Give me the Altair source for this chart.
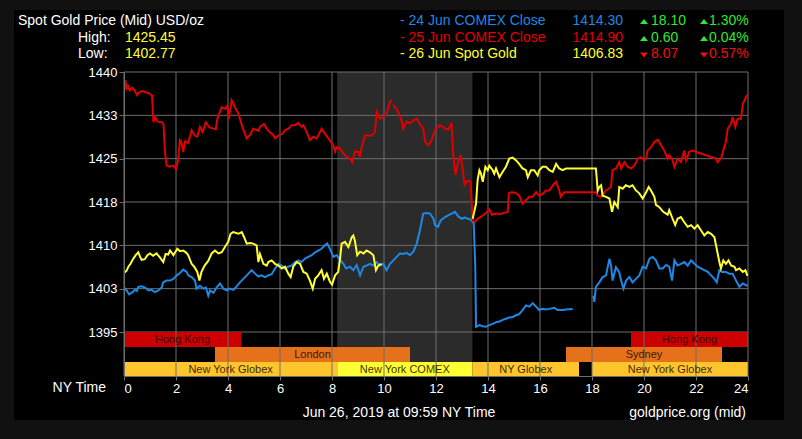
import altair as alt
import pandas as pd

# ---------------- data ----------------
red1_h = [0.00, 0.05, 0.10, 0.15, 0.22, 0.30, 0.40, 0.50, 0.58, 0.70, 0.85, 1.00, 1.08, 1.13, 1.20, 1.30, 1.45, 1.52, 1.58, 1.64,
          1.75, 1.90, 2.00, 2.08, 2.15, 2.20, 2.28, 2.35, 2.47, 2.60, 2.72, 2.82, 2.92, 3.03, 3.15, 3.28, 3.44, 3.53, 3.59, 3.76,
          3.88, 3.97, 4.03, 4.14, 4.27, 4.40, 4.53, 4.65, 4.72, 4.85, 4.97, 5.17, 5.23, 5.38, 5.49, 5.60, 5.74, 5.81, 5.94, 6.08,
          6.19, 6.32, 6.45, 6.58, 6.70, 6.83, 6.90, 7.03, 7.15, 7.28, 7.41, 7.54, 7.60, 7.73, 7.86, 8.05, 8.12, 8.18, 8.31, 8.44,
          8.56, 8.69, 8.78, 8.88, 9.01, 9.08, 9.14, 9.27, 9.40, 9.53, 9.65, 9.72, 9.85, 9.97, 10.10, 10.23, 10.30]
red1_v = [1436.3, 1438.6, 1437.2, 1437.6, 1436.8, 1437.3, 1436.9, 1436.0, 1436.5, 1436.7, 1436.5, 1436.2, 1435.9, 1431.3, 1432.2, 1431.4, 1431.3, 1430.9, 1426.0, 1423.8,
          1423.6, 1423.8, 1423.2, 1424.7, 1428.2, 1427.9, 1426.2, 1428.0, 1427.7, 1429.9, 1429.0, 1428.8, 1430.5, 1429.6, 1431.3, 1430.4, 1430.2, 1430.1, 1431.9, 1433.9,
          1433.6, 1434.1, 1431.9, 1435.1, 1433.9, 1432.8, 1430.8, 1429.3, 1428.5, 1429.1, 1430.2, 1429.8, 1430.5, 1431.0, 1430.2, 1429.6, 1429.1, 1428.5, 1429.0, 1429.3,
          1429.9, 1430.2, 1430.8, 1430.8, 1431.2, 1430.5, 1430.8, 1429.6, 1428.2, 1428.8, 1428.5, 1429.6, 1430.2, 1429.3, 1428.5, 1427.3, 1426.2, 1427.0, 1426.7, 1425.9,
          1425.3, 1425.0, 1424.4, 1426.2, 1426.2, 1425.3, 1427.0, 1429.0, 1429.0, 1429.0, 1429.6, 1433.1, 1431.9, 1432.2, 1432.8, 1434.8, 1435.2]
red2_h = [10.36, 10.55, 10.68, 10.74, 10.87, 11.00, 11.13, 11.26, 11.38, 11.51, 11.58, 11.71, 11.83, 11.96, 12.15, 12.35, 12.47, 12.60, 12.66, 12.75,
          12.85, 12.95, 13.03, 13.10, 13.22, 13.33, 13.41, 13.50, 13.60, 13.75, 13.92, 14.05, 14.15, 14.30, 14.44, 14.60, 14.76, 14.80, 14.90, 15.05,
          15.20, 15.33, 15.46, 15.59, 15.72, 15.85, 15.97, 16.10, 16.23, 16.36, 16.55, 16.62, 16.74, 16.80, 16.93, 18.15, 18.22, 18.35, 18.54, 18.73,
          18.79, 18.92, 19.05, 19.12, 19.25, 19.37, 19.50, 19.63, 19.76, 19.89, 20.01, 20.08, 20.14, 20.27, 20.40, 20.53, 20.66, 20.78, 20.91, 20.97,
          21.10, 21.17, 21.29, 21.42, 21.55, 21.62, 21.74, 21.87, 22.00, 22.19, 22.38, 22.58, 22.77, 22.83, 22.96, 23.09, 23.15, 23.22, 23.35, 23.41,
          23.51, 23.60, 23.73, 23.80, 23.90, 24.00]
red2_v = [1434.3, 1433.1, 1431.6, 1430.2, 1431.4, 1431.1, 1431.6, 1431.9, 1431.0, 1430.2, 1427.9, 1427.3, 1428.2, 1429.9, 1430.8, 1430.2, 1430.0, 1431.2, 1425.6, 1422.2,
          1424.4, 1425.6, 1423.0, 1420.5, 1421.2, 1421.0, 1414.3, 1414.0, 1414.6, 1415.0, 1415.6, 1416.2, 1415.3, 1415.5, 1415.4, 1415.6, 1415.8, 1419.0, 1419.2, 1419.1,
          1418.6, 1417.2, 1417.8, 1418.4, 1418.4, 1419.2, 1418.6, 1418.9, 1419.5, 1419.5, 1420.7, 1421.0, 1419.5, 1418.4, 1419.2, 1419.2, 1418.6, 1418.4, 1419.5, 1420.1,
          1423.0, 1423.3, 1424.4, 1423.3, 1424.4, 1423.6, 1423.3, 1423.8, 1425.0, 1425.3, 1424.7, 1425.0, 1426.4, 1427.0, 1427.9, 1428.3, 1427.3, 1426.4, 1425.0, 1425.6,
          1424.7, 1423.6, 1425.0, 1424.4, 1426.4, 1424.7, 1426.2, 1426.4, 1426.2, 1425.9, 1425.6, 1425.3, 1425.0, 1424.4, 1425.0, 1427.0, 1427.9, 1430.2, 1431.1, 1432.2,
          1430.5, 1431.9, 1431.9, 1434.5, 1435.4, 1436.2]

yel1_h = [0.00, 0.10, 0.17, 0.25, 0.36, 0.45, 0.55, 0.62, 0.68, 0.80, 0.90, 1.00, 1.12, 1.25, 1.38, 1.51, 1.60, 1.70, 1.77, 1.90,
          2.05, 2.15, 2.28, 2.40, 2.47, 2.60, 2.70, 2.82, 2.90, 2.98, 3.10, 3.24, 3.37, 3.50, 3.63, 3.76, 3.88, 4.01, 4.10, 4.20,
          4.40, 4.53, 4.62, 4.72, 4.85, 4.97, 5.10, 5.17, 5.23, 5.36, 5.49, 5.55, 5.68, 5.81, 5.94, 6.07, 6.19, 6.32, 6.41, 6.51,
          6.64, 6.77, 6.90, 7.03, 7.15, 7.26, 7.35, 7.47, 7.60, 7.69, 7.80, 7.92, 8.00, 8.12, 8.24, 8.31, 8.37, 8.50, 8.63, 8.76,
          8.82, 8.88, 8.97, 9.08, 9.21, 9.33, 9.46, 9.59, 9.69, 9.78, 9.91]
yel1_v = [1405.2, 1405.6, 1406.3, 1406.8, 1407.7, 1408.3, 1408.8, 1408.0, 1407.5, 1407.6, 1408.3, 1408.6, 1408.2, 1408.6, 1407.9, 1407.1, 1408.5, 1408.4, 1409.1, 1408.3,
          1409.4, 1409.0, 1409.1, 1408.7, 1408.3, 1406.8, 1406.3, 1405.4, 1403.9, 1405.4, 1406.5, 1407.3, 1408.6, 1409.1, 1408.6, 1408.8, 1409.7, 1410.6, 1412.0, 1412.3,
          1412.0, 1412.3, 1411.4, 1410.3, 1410.4, 1410.3, 1410.0, 1407.1, 1408.5, 1406.8, 1406.5, 1407.1, 1407.4, 1406.8, 1406.5, 1406.0, 1406.3, 1405.1, 1404.5, 1406.3,
          1407.1, 1406.8, 1405.4, 1405.1, 1403.9, 1402.5, 1404.2, 1404.8, 1405.7, 1404.2, 1405.1, 1403.7, 1403.2, 1404.8, 1405.4, 1407.7, 1410.3, 1410.6, 1409.7, 1411.4,
          1411.7, 1410.8, 1408.3, 1408.9, 1408.6, 1409.1, 1408.8, 1408.3, 1405.7, 1406.5, 1406.8]
yel2_h = [13.41, 13.54, 13.60, 13.67, 13.73, 13.80, 13.90, 13.99, 14.05, 14.18, 14.24, 14.31, 14.44, 14.56, 14.69, 14.82, 14.95, 15.08, 15.20, 15.33,
          15.46, 15.53, 15.65, 15.78, 15.91, 15.97, 16.10, 16.23, 16.36, 16.49, 16.62, 16.74, 16.87, 17.00, 18.15, 18.22, 18.28, 18.35, 18.41, 18.54,
          18.67, 18.77, 18.86, 18.99, 19.05, 19.18, 19.30, 19.44, 19.56, 19.69, 19.82, 19.95, 20.08, 20.18, 20.27, 20.40, 20.46, 20.59, 20.74, 20.91,
          20.97, 21.10, 21.20, 21.29, 21.42, 21.55, 21.68, 21.81, 21.94, 22.06, 22.19, 22.32, 22.45, 22.58, 22.71, 22.81, 22.90, 22.96, 23.05, 23.15,
          23.25, 23.35, 23.48, 23.54, 23.67, 23.80, 23.90, 23.98]
yel2_v = [1414.6, 1417.2, 1421.3, 1423.0, 1422.4, 1421.0, 1423.6, 1423.0, 1423.8, 1423.0, 1422.4, 1423.3, 1421.8, 1422.7, 1423.6, 1425.0, 1425.2, 1424.7, 1424.1, 1423.3,
          1423.0, 1421.8, 1423.0, 1423.0, 1422.1, 1423.0, 1423.6, 1423.6, 1423.0, 1422.7, 1424.1, 1423.3, 1423.0, 1423.3, 1423.3, 1419.5, 1420.1, 1420.4, 1418.6, 1418.4,
          1418.1, 1415.8, 1417.5, 1416.6, 1420.1, 1419.8, 1420.4, 1420.1, 1420.4, 1419.5, 1419.0, 1418.1, 1419.2, 1420.1, 1419.5, 1418.4, 1417.0, 1416.6, 1415.8, 1415.3,
          1416.1, 1414.6, 1413.5, 1414.6, 1414.9, 1414.0, 1413.2, 1413.5, 1412.9, 1413.5, 1412.6, 1411.7, 1412.3, 1412.0, 1411.4, 1409.1, 1407.1, 1406.0, 1407.4, 1406.8,
          1407.4, 1406.5, 1406.3, 1405.7, 1406.0, 1405.4, 1405.7, 1404.7]

blue1_h = [0.00, 0.10, 0.20, 0.33, 0.42, 0.49, 0.55, 0.68, 0.81, 0.94, 1.06, 1.19, 1.32, 1.45, 1.51, 1.64, 1.77, 1.90, 2.03, 2.15,
           2.28, 2.41, 2.47, 2.60, 2.73, 2.79, 2.92, 3.05, 3.15, 3.24, 3.31, 3.44, 3.56, 3.69, 3.82, 3.95, 4.08, 4.21, 4.33, 4.46,
           4.59, 4.72, 4.91, 5.04, 5.17, 5.29, 5.42, 5.55, 5.68, 5.81, 5.94, 6.06, 6.19, 6.32, 6.45, 6.58, 6.71, 6.83, 6.96, 7.09,
           7.22, 7.35, 7.47, 7.60, 7.73, 7.82, 7.92, 8.05, 8.18, 8.31, 8.44, 8.54, 8.69, 8.82, 8.95, 9.08, 9.21, 9.33, 9.46, 9.59,
           9.72, 9.85, 9.97, 10.10, 10.23, 10.36, 10.49, 10.62, 10.74, 10.87, 11.00, 11.13, 11.26, 11.38, 11.51, 11.64, 11.77, 11.90, 11.96, 12.08,
           12.18, 12.35, 12.47, 12.60, 12.73, 12.86, 12.99, 13.10, 13.23, 13.35, 13.45, 13.51, 13.54, 13.67, 13.80, 13.92, 14.05, 14.18, 14.31, 14.44,
           14.56, 14.69, 14.82, 14.95, 15.08, 15.20, 15.33, 15.46, 15.59, 15.72, 15.85, 15.97, 16.10, 16.23, 16.36, 16.55, 16.68, 16.87, 17.00, 17.26]
blue1_v = [1402.7, 1402.2, 1401.5, 1401.9, 1402.3, 1402.1, 1402.8, 1402.9, 1402.7, 1402.2, 1402.3, 1401.9, 1402.2, 1402.7, 1403.6, 1403.9, 1403.9, 1404.2, 1404.8, 1405.2,
           1405.8, 1405.4, 1404.8, 1404.5, 1403.9, 1402.5, 1403.0, 1402.5, 1402.7, 1401.3, 1402.2, 1401.8, 1402.7, 1403.4, 1402.5, 1402.2, 1402.5, 1402.3, 1402.9, 1403.6,
           1404.2, 1404.8, 1405.7, 1405.1, 1404.6, 1404.8, 1404.5, 1404.8, 1405.0, 1406.0, 1406.8, 1406.5, 1406.0, 1406.3, 1406.5, 1407.1, 1407.4, 1407.1, 1407.7, 1408.0,
           1408.3, 1408.8, 1409.1, 1409.4, 1410.0, 1410.3, 1409.4, 1408.0, 1408.3, 1407.5, 1406.8, 1406.0, 1406.3, 1405.7, 1406.6, 1404.8, 1406.3, 1406.5, 1406.8, 1406.5,
           1407.1, 1406.5, 1406.8, 1405.7, 1406.8, 1407.4, 1408.0, 1408.6, 1408.5, 1408.7, 1408.3, 1408.9, 1410.3, 1412.6, 1415.5, 1415.6, 1415.5, 1414.6, 1413.5, 1413.2,
           1414.3, 1414.9, 1415.2, 1415.5, 1415.8, 1415.0, 1414.6, 1414.8, 1414.6, 1414.4, 1413.8, 1406.3, 1395.9, 1396.2, 1396.0, 1395.9, 1396.2, 1396.4, 1396.7, 1396.8,
           1397.1, 1397.3, 1397.5, 1397.6, 1397.9, 1398.1, 1398.8, 1399.6, 1399.4, 1400.0, 1399.4, 1398.8, 1399.0, 1398.9, 1399.0, 1399.2, 1398.8, 1398.8, 1398.9, 1399.0]
blue2_h = [18.05, 18.09, 18.15, 18.28, 18.41, 18.54, 18.67, 18.73, 18.79, 18.92, 19.05, 19.12, 19.21, 19.31, 19.44, 19.56, 19.69, 19.82, 19.95, 20.08,
           20.21, 20.33, 20.46, 20.59, 20.72, 20.85, 20.97, 21.08, 21.17, 21.29, 21.42, 21.55, 21.68, 21.81, 21.94, 22.06, 22.19, 22.32, 22.45, 22.58,
           22.71, 22.80, 22.90, 23.00, 23.15, 23.28, 23.41, 23.54, 23.67, 23.80, 23.92, 24.00]
blue2_v = [1401.3, 1400.2, 1402.8, 1403.6, 1404.5, 1404.8, 1407.7, 1406.6, 1403.9, 1406.2, 1405.3, 1403.9, 1402.5, 1403.9, 1404.5, 1403.6, 1404.2, 1404.8, 1406.3, 1406.0,
           1407.7, 1408.0, 1407.4, 1406.0, 1406.0, 1406.6, 1406.3, 1403.9, 1407.4, 1406.5, 1406.8, 1407.1, 1406.5, 1407.4, 1406.8, 1406.3, 1406.0, 1405.7, 1405.4, 1404.8,
           1404.2, 1403.6, 1405.7, 1405.4, 1405.4, 1405.1, 1405.1, 1403.9, 1402.8, 1403.4, 1403.1, 1403.0]

y_ticks = [1395, 1402.5, 1410, 1417.5, 1425, 1432.5, 1440]
x_ticks = list(range(0, 25, 2))

band_names = ["Hong Kong", "Hong Kong", "London", "Sydney", "New York Globex", "New York COMEX", "NY Globex", "New York Globex"]
band_kind = ["hk", "hk", "ldn", "ldn", "globex", "comex", "globex", "globex"]
band_row = [0, 0, 1, 1, 2, 2, 2, 2]
band_start = [0, 19.5, 3.5, 17, 0, 8.2, 13.4, 18]
band_end = [4.5, 24, 11, 23, 8.2, 13.4, 17.5, 24]

comex_start, comex_end = 8.2, 13.4

title_text = "Spot Gold Price (Mid) USD/oz"
high_val, low_val = "1425.45", "1402.77"
legend_names = ["- 24 Jun COMEX Close", "- 25 Jun COMEX Close", "- 26 Jun Spot Gold"]
legend_prices = ["1414.30", "1414.90", "1406.83"]
legend_changes = ["18.10", "0.60", "8.07"]
legend_pcts = ["1.30%", "0.04%", "0.57%"]
legend_up = [True, True, False]
footer_time = "Jun 26, 2019 at 09:59 NY Time"
footer_src = "goldprice.org (mid)"

# ---------------- build ----------------
FONT = "Liberation Sans"
W, H = 624, 304
BLUE, RED, YEL = "#1e88e5", "#e00000", "#ffff33"
GREEN, DRED = "#2fe82f", "#ee1111"
GRID = "#6e6e6e"

rows = []
for name, seg, hs, vs in [("blue", "b1", blue1_h, blue1_v), ("blue", "b2", blue2_h, blue2_v),
                          ("red", "r1", red1_h, red1_v), ("red", "r2", red2_h, red2_v),
                          ("yellow", "y1", yel1_h, yel1_v), ("yellow", "y2", yel2_h, yel2_v)]:
    for h, v in zip(hs, vs):
        rows.append({"series": name, "seg": seg, "h": h, "v": v})
lines_df = pd.DataFrame(rows)

bands_df = pd.DataFrame({"name": band_names, "kind": band_kind, "row": band_row,
                         "start": band_start, "end": band_end})
bands_df["mid"] = (bands_df["start"] + bands_df["end"]) / 2

xs = alt.Scale(domain=[0, 24], nice=False)
ys = alt.Scale(domain=[1440 - 304 / (260 / 45), 1440], nice=False, zero=False)

xaxis = alt.Axis(values=x_ticks, labelColor="#ffffff", labelFont=FONT, labelFontSize=13, tickColor=GRID,
                 tickSize=4, labelPadding=2, domainColor=GRID, grid=False, title=None, zindex=1)
yaxis = alt.Axis(values=y_ticks, format=".0f", labelColor="#ffffff", labelFont=FONT, labelFontSize=13,
                 tickColor=GRID, tickSize=5, labelPadding=2, domainColor=GRID, grid=False, title=None, zindex=1)

def X(field):
    return alt.X(field, scale=xs, axis=xaxis, title=None)

def Y(field):
    return alt.Y(field, scale=ys, axis=yaxis, title=None)

one = pd.DataFrame({"a": [0]})

# frame panel
panel = alt.Chart(one).mark_rect(color="#000000").encode(
    x=alt.value(-110), x2=alt.value(660), y=alt.value(-62), y2=alt.value(348))

shade = alt.Chart(pd.DataFrame({"s": [comex_start], "e": [comex_end]})).mark_rect(color="#2b2b2b").encode(
    x=X("s:Q"), x2="e:Q", y=alt.value(0), y2=alt.value(H))

hgrid = alt.Chart(pd.DataFrame({"t": y_ticks})).mark_rule(color=GRID, strokeWidth=1).encode(
    y=Y("t:Q"), x=alt.value(0), x2=alt.value(W))

row_top = {0: 260, 1: 275, 2: 290}
row_bot = {0: 275, 1: 290, 2: 304}
band_layers = []
for r in [0, 1, 2]:
    sub = bands_df[bands_df["row"] == r]
    band_layers.append(alt.Chart(sub).mark_rect().encode(
        x=X("start:Q"), x2="end:Q",
        y=alt.value(row_top[r]), y2=alt.value(row_bot[r]),
        color=alt.Color("kind:N", scale=alt.Scale(domain=["hk", "ldn", "globex", "comex"],
                                                   range=["#cc0000", "#e5711a", "#fec62c", "#ffff33"]),
                        legend=None)))

vgrid = alt.Chart(pd.DataFrame({"t": x_ticks})).mark_rule(color=GRID, strokeWidth=1).encode(
    x=X("t:Q"), y=alt.value(0), y2=alt.value(H))

label_layers = []
for r in [0, 1, 2]:
    sub = bands_df[bands_df["row"] == r]
    label_layers.append(alt.Chart(sub).mark_text(font=FONT, fontSize=11, color="#1a0a00", opacity=0.85,
                                                 baseline="middle", align="center").encode(
        x=X("mid:Q"), y=alt.value((row_top[r] + row_bot[r]) / 2 + 0.5), text="name:N"))

def series_line(name, color):
    d = lines_df[lines_df["series"] == name]
    return alt.Chart(d).mark_line(color=color, strokeWidth=2, clip=True).encode(
        x=X("h:Q"), y=Y("v:Q"), detail="seg:N", order="h:Q")

line_b = series_line("blue", BLUE)
line_r = series_line("red", RED)
line_y = series_line("yellow", YEL)

def txt(s, x, y, color="#ffffff", size=14, align="left", baseline="alphabetic"):
    return alt.Chart(pd.DataFrame({"t": [s]})).mark_text(
        font=FONT, fontSize=size, color=color, align=align, baseline=baseline).encode(
        text="t:N", x=alt.value(x), y=alt.value(y))

def tri(up, x, y, color):
    path = "M-1,0.6L1,0.6L0,-0.6Z" if up else "M-1,-0.6L1,-0.6L0,0.6Z"
    return alt.Chart(one).mark_point(shape=path, filled=True, size=64, color=color, opacity=1,
                                     strokeWidth=0).encode(x=alt.value(x), y=alt.value(y))

OX, OY = 124, 72
texts = [
    txt(title_text, 18 - OX, 25 - OY),
    txt("High:", 78 - OX, 42 - OY),
    txt(high_val, 125 - OX, 42 - OY, YEL),
    txt("Low:", 78 - OX, 58 - OY),
    txt(low_val, 125 - OX, 58 - OY, YEL),
    txt("NY Time", 106 - OX, 392 - OY, align="right"),
    txt(footer_time, 399 - OX, 417 - OY, align="center"),
    txt(footer_src, 746 - OX, 417 - OY, align="right"),
]
name_colors = [BLUE, RED, YEL]
for i in range(3):
    base = [25, 42, 58][i]
    ccol = GREEN if legend_up[i] else DRED
    texts.append(txt(legend_names[i], 400 - OX, base - OY, name_colors[i]))
    texts.append(txt(legend_prices[i], 623 - OX, base - OY, name_colors[i], align="right"))
    tri_y = base - 3.5 if legend_up[i] else base - 3
    texts.append(tri(legend_up[i], 644 - OX, tri_y - OY, ccol))
    texts.append(txt(legend_changes[i], 651 - OX, base - OY, ccol))
    texts.append(tri(legend_up[i], 704 - OX, tri_y - OY, ccol))
    texts.append(txt(legend_pcts[i], 709 - OX, base - OY, ccol))

chart = alt.layer(
    panel, shade, hgrid, *band_layers, vgrid, *label_layers, line_b, line_r, line_y, *texts
).properties(
    width=W, height=H,
    background="#111111",
    padding={"left": OX, "top": OY, "right": 802 - OX - W, "bottom": 439 - OY - H},
    autosize=alt.AutoSizeParams(type="none"),
).configure_view(stroke=None)

chart.save("out.html", embed_options={"renderer": "svg", "actions": False})
